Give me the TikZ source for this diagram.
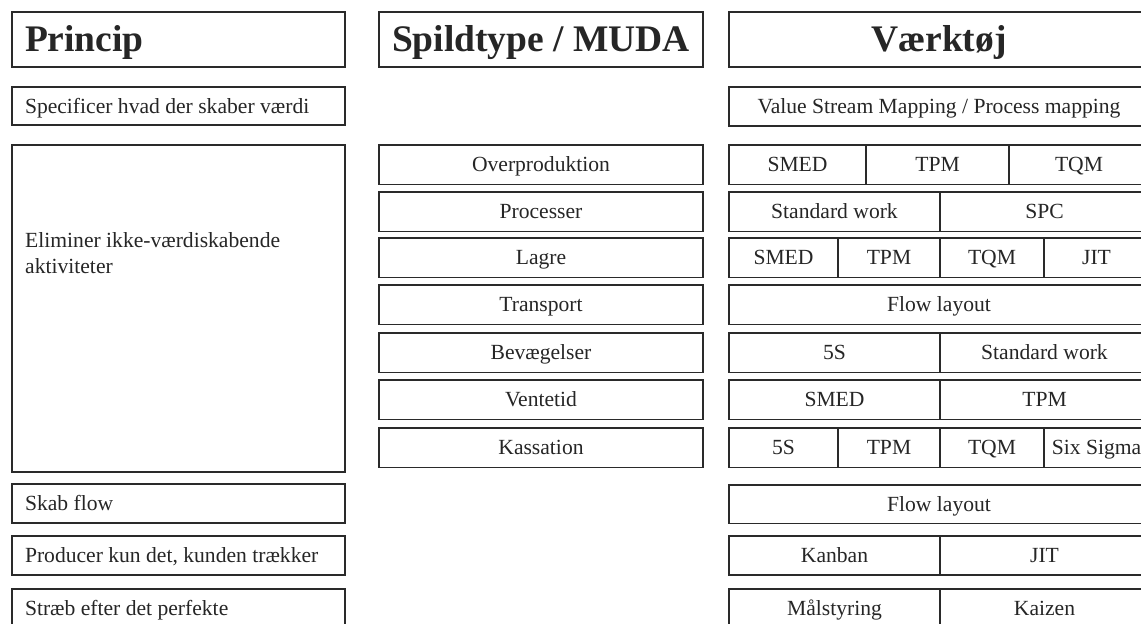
\documentclass[tikz,border=0pt]{standalone}
\usepackage{fontspec}
\setmainfont{Liberation Serif}
\definecolor{ink}{HTML}{262626}
\definecolor{rulecol}{HTML}{2A2A2A}

% \cellbox[style]{name}{x1}{y1}{x2}{y2}{text}: a framed cell given by its corners
\newcommand{\cellbox}[7][]{%
  \node[cell,#1,minimum width={#5-#3},minimum height={#6-#4}] (#2)
    at ({(#3+#5)/2},{(#4+#6)/2}) {#7};}

\begin{document}
\begin{tikzpicture}[x=1pt,y=-1pt,
  cell/.style={draw=rulecol, line width=1.9pt, rectangle, inner sep=0pt,
    text=ink, font=\fontsize{21.6}{26}\selectfont,
    text height=14.3pt, text depth=0pt},
  head/.style={font=\fontsize{37.5}{40}\selectfont\bfseries, text height=24.8pt},
  lefttext/.style={text width=307pt, align=flush left},
]
\useasboundingbox (0,0) rectangle (1141,624);
\fill[white] (0,0) rectangle (1141,624);
\clip (0,0) rectangle (1141,624);

% ---- column 1: Princip
\cellbox[head,lefttext]{princip}{12}{12}{345}{67}{Princip}
\cellbox[lefttext]{spec}{12}{87}{345}{125}{Specificer hvad der skaber værdi}
\cellbox{elim}{12}{145}{345}{472}{}
\node[anchor=north west, inner sep=0pt, text width=307pt, align=flush left,
      text=ink, font=\fontsize{21.6}{26}\selectfont] (elimtext) at (25,232.5)
      {Eliminer ikke-værdiskabende\\aktiviteter};
\cellbox[lefttext]{flow}{12}{484}{345}{523}{Skab flow}
\cellbox[lefttext]{pull}{12}{536}{345}{575}{Producer kun det, kunden trækker}
\cellbox[lefttext]{perf}{12}{589}{345}{628}{Stræb efter det perfekte}

% ---- column 2: Spildtype / MUDA
\cellbox[head]{muda}{379}{12}{703}{67}{Spildtype / MUDA}
\cellbox{m1}{379}{145}{703}{184.5}{Overproduktion}
\cellbox{m2}{379}{192}{703}{231.5}{Processer}
\cellbox{m3}{379}{238}{703}{277.5}{Lagre}
\cellbox{m4}{379}{285}{703}{324.5}{Transport}
\cellbox{m5}{379}{333}{703}{372.5}{Bevægelser}
\cellbox{m6}{379}{380}{703}{419.5}{Ventetid}
\cellbox{m7}{379}{428}{703}{467.5}{Kassation}

% ---- column 3: Værktøj
\cellbox[head]{vaerk}{729}{12}{1149}{67}{Værktøj}
\cellbox{vsm}{729}{87}{1149}{126}{Value Stream Mapping / Process mapping}

\cellbox{r1a}{729}{145}{866}{184.5}{SMED}
\cellbox{r1b}{866}{145}{1009}{184.5}{TPM}
\cellbox{r1c}{1009}{145}{1149}{184.5}{TQM}

\cellbox{r2a}{729}{192}{940}{231.5}{Standard work}
\cellbox{r2b}{940}{192}{1149}{231.5}{SPC}

\cellbox{r3a}{729}{238}{838}{277.5}{SMED}
\cellbox{r3b}{838}{238}{940}{277.5}{TPM}
\cellbox{r3c}{940}{238}{1044}{277.5}{TQM}
\cellbox{r3d}{1044}{238}{1149}{277.5}{JIT}

\cellbox{r4a}{729}{285}{1149}{324.5}{Flow layout}

\cellbox{r5a}{729}{333}{940}{372.5}{5S}
\cellbox{r5b}{940}{333}{1149}{372.5}{Standard work}

\cellbox{r6a}{729}{380}{940}{419.5}{SMED}
\cellbox{r6b}{940}{380}{1149}{419.5}{TPM}

\cellbox{r7a}{729}{428}{838}{467.5}{5S}
\cellbox{r7b}{838}{428}{940}{467.5}{TPM}
\cellbox{r7c}{940}{428}{1044}{467.5}{TQM}
\cellbox{r7d}{1044}{428}{1149}{467.5}{Six Sigma}

\cellbox{r8a}{729}{485}{1149}{523.5}{Flow layout}

\cellbox{r9a}{729}{536}{940}{575}{Kanban}
\cellbox{r9b}{940}{536}{1149}{575}{JIT}

\cellbox{r10a}{729}{589}{940}{628}{Målstyring}
\cellbox{r10b}{940}{589}{1149}{628}{Kaizen}
\end{tikzpicture}
\end{document}
